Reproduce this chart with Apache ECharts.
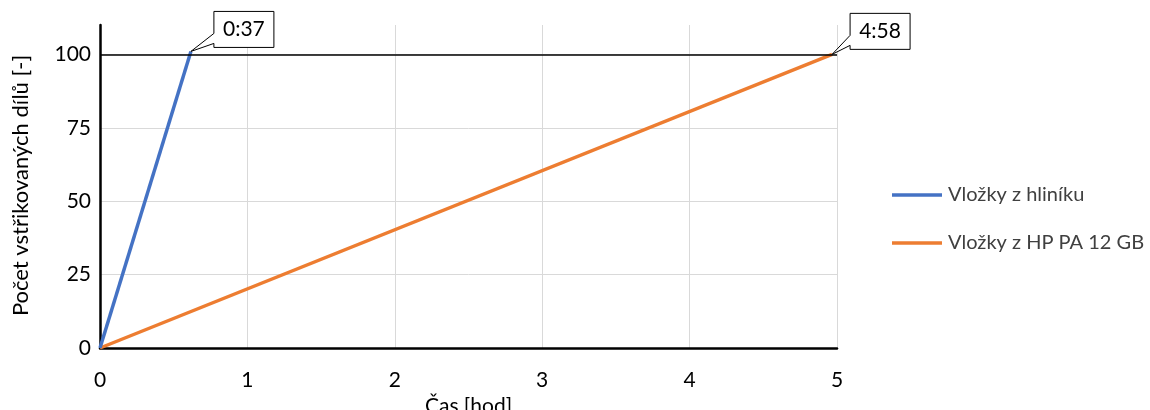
<!DOCTYPE html>
<html>
<head>
<meta charset="utf-8">
<script src="https://cdn.jsdelivr.net/npm/echarts@6/dist/echarts.min.js"></script>
<style>
  html, body { margin: 0; padding: 0; background: #fff; }
  #chart { width: 1150px; height: 410px; }
</style>
</head>
<body>
<div id="chart"></div>
<script>
// Production runs: elapsed time (minutes) against number of moulded parts
const seriesNames = ['Vložky z hliníku', 'Vložky z HP PA 12 GB'];
const aluMinutes = [0, 37];
const aluParts = [0, 101];
const pa12Minutes = [0, 298];
const pa12Parts = [0, 100];
const targetParts = 100;
const xTicks = [0, 1, 2, 3, 4, 5];
const yTicks = [0, 25, 50, 75, 100];

const colors = ['#4472C4', '#ED7D31'];
const FONT = 'Lato';

function toPoints(minutes, parts) {
  return minutes.map((m, i) => [m / 60, parts[i]]);
}
function fmtTime(hours) {
  const total = Math.round(hours * 60);
  const h = Math.floor(total / 60);
  const m = total % 60;
  return h + ':' + String(m).padStart(2, '0');
}

const aluData = toPoints(aluMinutes, aluParts);
const pa12Data = toPoints(pa12Minutes, pa12Parts);

const chart = echarts.init(document.getElementById('chart'), null, { renderer: 'canvas' });

const option = {
  animation: false,
  backgroundColor: '#fff',
  color: colors,
  textStyle: { fontFamily: FONT },
  grid: { left: 100, right: 313, top: 25, bottom: 62, containLabel: false, outerBoundsMode: 'none' },
  legend: {
    orient: 'vertical',
    left: 887,
    top: 180,
    icon: 'rect',
    itemWidth: 50,
    itemHeight: 3.5,
    itemGap: 28,
    data: seriesNames,
    textStyle: { fontFamily: FONT, fontSize: 20, color: '#404040', padding: [0, 0, 0, 1] }
  },
  xAxis: {
    type: 'value',
    min: xTicks[0],
    max: xTicks[xTicks.length - 1],
    interval: 1,
    name: 'Čas [hod]',
    nameLocation: 'middle',
    nameGap: 30,
    nameTextStyle: { fontFamily: FONT, fontSize: 21, color: '#000' },
    axisLine: { lineStyle: { color: '#000', width: 2.5 } },
    axisTick: { show: false },
    axisLabel: { fontFamily: FONT, fontSize: 21, color: '#000', margin: 22 },
    splitLine: { show: true, showMinLine: false, lineStyle: { color: '#d9d9d9', width: 1 } }
  },
  yAxis: {
    type: 'value',
    min: 0,
    max: 110,
    interval: 25,
    name: 'Počet vstřikovaných dílů [-]',
    nameLocation: 'middle',
    nameGap: 68,
    nameTextStyle: { fontFamily: FONT, fontSize: 22, color: '#000', padding: [0, 0, 0, 2] },
    axisLine: { show: true, lineStyle: { color: '#000', width: 2.5 } },
    axisTick: { show: false },
    axisLabel: {
      fontFamily: FONT, fontSize: 21, color: '#000', margin: 9,
      showMaxLabel: false,
      formatter: v => (yTicks.indexOf(v) >= 0 ? String(v) : '')
    },
    splitLine: { show: true, showMinLine: false, showMaxLine: false, lineStyle: { color: '#d9d9d9', width: 1 } }
  },
  series: [
    {
      name: seriesNames[0],
      type: 'line',
      data: aluData,
      symbol: 'none',
      lineStyle: { width: 3.5, color: colors[0] },
      z: 4
    },
    {
      name: seriesNames[1],
      type: 'line',
      data: pa12Data,
      symbol: 'none',
      lineStyle: { width: 3.5, color: colors[1] },
      z: 3,
      markLine: {
        silent: true,
        symbol: 'none',
        label: { show: false },
        lineStyle: { color: '#000', width: 1.5, type: 'solid' },
        data: [[{ coord: [xTicks[0], targetParts] }, { coord: [xTicks[xTicks.length - 1], targetParts] }]]
      }
    }
  ]
};

chart.setOption(option);

// Callout boxes with a pointer tail at the end of each run
function callout(point, dx, dy) {
  const p = chart.convertToPixel({ gridIndex: 0 }, point);
  const w = 60, h = 36;
  const bx = p[0] + dx, by = p[1] + dy;
  return [
    {
      type: 'polygon',
      shape: {
        points: [
          [bx, by], [bx + w, by], [bx + w, by + h], [bx, by + h],
          [bx, by + h - 4], [p[0], p[1]], [bx, by + h - 14]
        ]
      },
      style: { fill: '#fff', stroke: '#000', lineWidth: 1 },
      z: 100
    },
    {
      type: 'text',
      x: bx + w / 2,
      y: by + h / 2,
      style: {
        text: fmtTime(point[0]),
        fontFamily: FONT, fontSize: 21, fill: '#000',
        align: 'center', verticalAlign: 'middle'
      },
      z: 101
    }
  ];
}

const aluEnd = aluData[aluData.length - 1];
const pa12End = pa12Data[pa12Data.length - 1];
chart.setOption({
  graphic: [].concat(callout(aluEnd, 23, -40), callout(pa12End, 18, -41))
});
</script>
</body>
</html>
